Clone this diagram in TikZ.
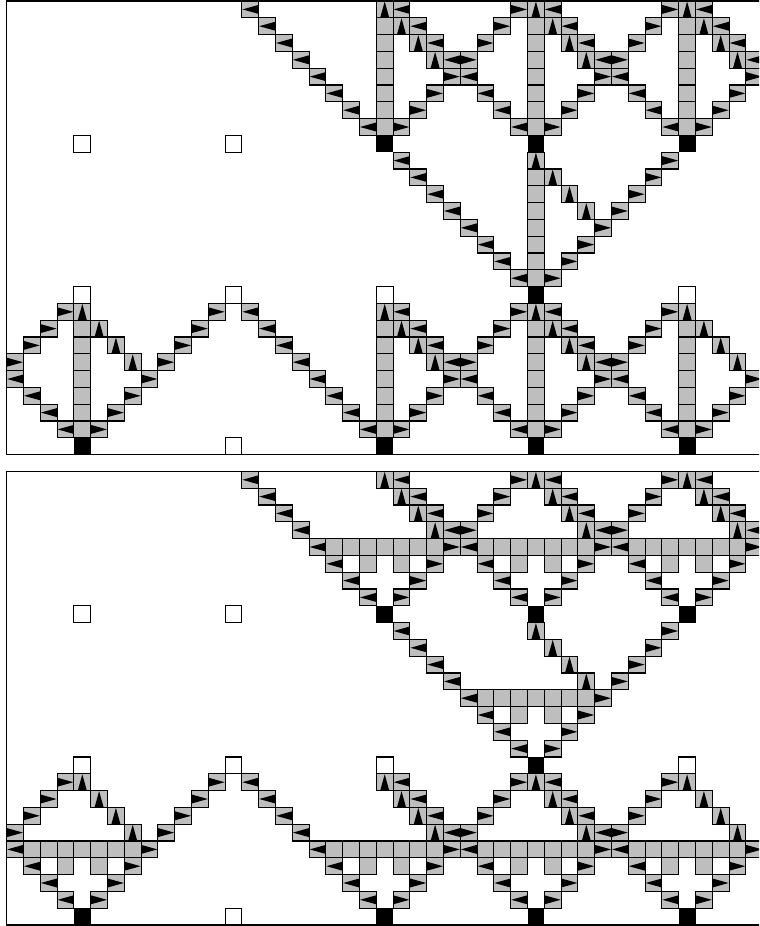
\documentclass[tikz,border=0pt]{standalone}
\usepackage{tikz}

\definecolor{cellgray}{rgb}{.745,.745,.745}

\newcommand{\leftcells}{14/0,23/0,32/0,41/0,15/1,24/1,33/1,42/1,16/2,25/2,34/2,43/2,17/3,26/3,35/3,44/3,
	18/4,27/4,36/4,19/5,28/5,37/5,20/6,29/6,38/6,21/7,30/7,39/7,
	23/9,24/10,25/11,26/12,27/13,28/14,29/15,30/16,
	14/18,23/18,32/18,15/19,24/19,33/19,16/20,25/20,34/20,17/21,26/21,35/21,
	0/22,18/22,27/22,36/22,1/23,19/23,28/23,37/23,2/24,20/24,29/24,38/24,3/25,21/25,30/25,39/25}
\newcommand{\rightcells}{30/0,39/0,29/1,38/1,28/2,37/2,27/3,36/3,
	26/4,35/4,44/4,25/5,34/5,43/5,24/6,33/6,42/6,23/7,32/7,41/7,
	39/9,38/10,37/11,36/12,35/13,34/14,33/15,32/16,
	3/18,12/18,30/18,39/18,2/19,11/19,29/19,38/19,1/20,10/20,28/20,37/20,0/21,9/21,27/21,36/21,
	8/22,26/22,35/22,44/22,7/23,25/23,34/23,43/23,6/24,24/24,33/24,42/24,5/25,23/25,32/25,41/25}
\newcommand{\upcells}{22/0,31/0,40/0,23/1,32/1,41/1,24/2,33/2,42/2,25/3,34/3,43/3,
	31/9,32/10,33/11,34/12,
	4/18,22/18,31/18,40/18,5/19,23/19,32/19,41/19,6/20,24/20,33/20,42/20,7/21,25/21,34/21,43/21}
\newcommand{\blackcells}{22/8,31/8,40/8,31/17,4/26,22/26,31/26,40/26}
\newcommand{\whitecells}{4/8,13/8,4/17,13/17,22/17,40/17,13/26}

\newcommand{\panelcells}{%
	\draw[frame] (0,0) rectangle (46,27);
	\foreach \c/\r in \whitecells {\draw[cell, fill=white] (\c,\r) rectangle ++(1,1);}
	\foreach \c/\r in \blackcells {\fill[black] (\c,\r) rectangle ++(1,1);}
	\foreach \c/\r in \leftcells {
		\draw[cell] (\c,\r) rectangle ++(1,1);
		\fill[black] (\c+1,\r+.23) -- (\c+.03,\r+.5) -- (\c+1,\r+.77) -- cycle;
	}
	\foreach \c/\r in \rightcells {
		\draw[cell] (\c,\r) rectangle ++(1,1);
		\fill[black] (\c,\r+.23) -- (\c+.97,\r+.5) -- (\c,\r+.77) -- cycle;
	}
	\foreach \c/\r in \upcells {
		\draw[cell] (\c,\r) rectangle ++(1,1);
		\fill[black] (\c+.23,\r+1) -- (\c+.5,\r+.03) -- (\c+.77,\r+1) -- cycle;
	}
}

\begin{document}
\begin{tikzpicture}[x=12.6pt, y=-12.6pt, line width=.85pt,
	cell/.style={draw=black, fill=cellgray},
	frame/.style={draw=black}]
	\useasboundingbox (-.4,-.06) rectangle (44.78,55.06);
	\clip (-.4,-.06) rectangle (44.78,55.06);
	\panelcells
	\foreach \c in {22,31,40}
		\foreach \r in {1,...,7,19,20,...,25}
			\draw[cell] (\c,\r) rectangle ++(1,1);
	\foreach \r in {19,...,25}
		\draw[cell] (4,\r) rectangle ++(1,1);
	\foreach \r in {10,...,16}
		\draw[cell] (31,\r) rectangle ++(1,1);
	\begin{scope}[shift={(0,28)}]
		\panelcells
		\foreach \s/\r in {19/4,28/4,37/4,28/13,1/22,19/22,28/22,37/22}
			\foreach \i in {0,...,6}
				\draw[cell] (\s+\i,\r) rectangle ++(1,1);
		\foreach \c/\r in {21/5,23/5,30/5,32/5,39/5,41/5,30/14,32/14,3/23,5/23,21/23,23/23,30/23,32/23,39/23,41/23}
			\draw[cell] (\c,\r) rectangle ++(1,1);
	\end{scope}
\end{tikzpicture}
\end{document}
